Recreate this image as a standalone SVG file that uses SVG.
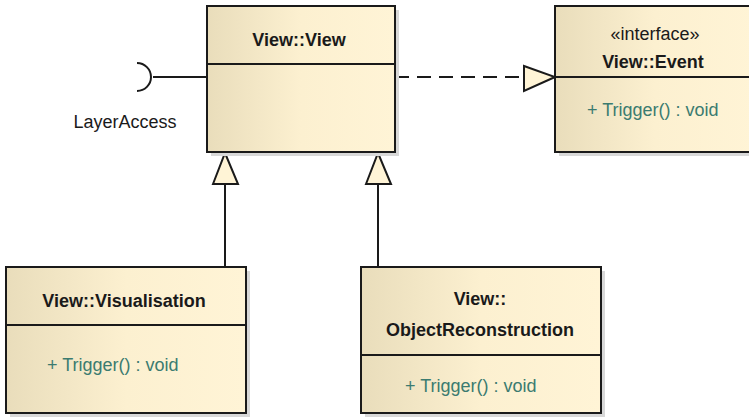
<svg xmlns="http://www.w3.org/2000/svg" width="749" height="417" viewBox="0 0 749 417">
<defs>
<linearGradient id="g" x1="0" y1="0" x2="1" y2="0">
<stop offset="0" stop-color="#e9ddbb"/>
<stop offset="0.5" stop-color="#fcf0d0"/>
<stop offset="1" stop-color="#fff4d6"/>
</linearGradient>
</defs>
<style>
.box{fill:url(#g);stroke:#1a1a1a;stroke-width:2}
.sh{fill:#d8d8d8}
.div{stroke:#1a1a1a;stroke-width:2}
.t{font-family:"Liberation Sans",Arial,sans-serif;font-size:18px;font-weight:bold;fill:#1a1a1a;text-anchor:middle}
.st{font-family:"Liberation Sans",Arial,sans-serif;font-size:18px;fill:#1a1a1a;text-anchor:middle}
.op{font-family:"Liberation Sans",Arial,sans-serif;font-size:18px;fill:#3b7b70}
.ln{stroke:#1a1a1a;stroke-width:2;fill:none}
.tri{fill:#fff4d6;stroke:#1a1a1a;stroke-width:2}
</style>
<g id="connectors">
<path class="ln" d="M395,77 H524" stroke-dasharray="14,8"/>
<polygon class="tri" points="524,66 555,77 524,91"/>
<path class="ln" d="M225,267 V184"/>
<polygon class="tri" points="213,184 225,153 238,184"/>
<path class="ln" d="M378,267 V184"/>
<polygon class="tri" points="366,184 378,153 391,184"/>
<path class="ln" d="M153,77 H207"/>
</g>
<g id="LayerAccess">
<path class="ln" d="M137,63 A14,14 0 0 1 137,91"/>
<text x="125" y="128" class="st">LayerAccess</text>
</g>
<g id="View">
<rect class="sh" x="211" y="10" width="188" height="146"/>
<rect class="box" x="207" y="6" width="188" height="146"/>
<line class="div" x1="207" y1="64" x2="395" y2="64"/>
<text x="299" y="46" class="t">View::View</text>
</g>
<g id="Event">
<rect class="sh" x="559" y="10" width="200" height="146"/>
<rect class="box" x="555" y="6" width="200" height="146"/>
<line class="div" x1="555" y1="77" x2="755" y2="77"/>
<text x="655" y="40" class="st">«interface»</text>
<text x="653" y="68" class="t">View::Event</text>
<text x="587" y="116" class="op">+ Trigger() : void</text>
</g>
<g id="Visualisation">
<rect class="sh" x="10" y="271" width="240" height="146"/>
<rect class="box" x="6" y="267" width="240" height="146"/>
<line class="div" x1="6" y1="325" x2="246" y2="325"/>
<text x="124" y="307" class="t">View::Visualisation</text>
<text x="47" y="371" class="op">+ Trigger() : void</text>
</g>
<g id="ObjectReconstruction">
<rect class="sh" x="365" y="271" width="240" height="146"/>
<rect class="box" x="361" y="267" width="240" height="146"/>
<line class="div" x1="361" y1="355" x2="601" y2="355"/>
<text x="480" y="305" class="t">View::</text>
<text x="480" y="336" class="t">ObjectReconstruction</text>
<text x="405" y="392" class="op">+ Trigger() : void</text>
</g>
</svg>
